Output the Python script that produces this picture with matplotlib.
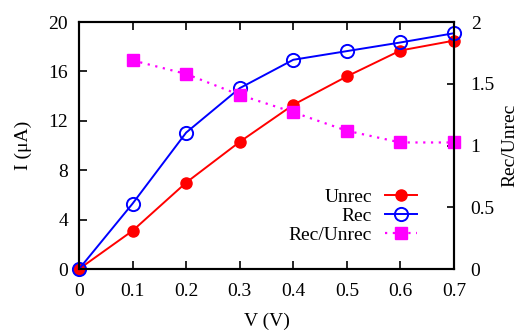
import matplotlib
matplotlib.use("Agg")
import matplotlib.pyplot as plt

plt.rcParams['font.family'] = ['Liberation Serif', 'DejaVu Serif']
plt.rcParams['mathtext.fontset'] = 'stix'

voltage = [0, 0.1, 0.2, 0.3, 0.4, 0.5, 0.6, 0.7]
unrec = [0, 3.1, 7.0, 10.3, 13.3, 15.6, 17.7, 18.5]
rec = [0, 5.3, 11.05, 14.65, 16.95, 17.65, 18.35, 19.1]
ratio_v = [0.1, 0.2, 0.3, 0.4, 0.5, 0.6, 0.7]
ratio = [1.69, 1.58, 1.41, 1.27, 1.12, 1.025, 1.025]

x_ticks = [0, 0.1, 0.2, 0.3, 0.4, 0.5, 0.6, 0.7]
y_ticks = [0, 4, 8, 12, 16, 20]
y2_ticks = [0, 0.5, 1, 1.5, 2]

fig = plt.figure(figsize=(5.2, 3.35), dpi=100)
ax = fig.add_axes([0.152, 0.197, 0.721, 0.737])
ax2 = ax.twinx()

l1, = ax.plot(voltage, unrec, color='#ff0000', lw=1.4, marker='o', ms=8,
              markerfacecolor='#ff0000', markeredgecolor='#ff0000', label='Unrec', clip_on=False, zorder=3)
l2, = ax.plot(voltage, rec, color='#0000ff', lw=1.4, marker='o', ms=9.5,
              markerfacecolor='none', markeredgecolor='#0000ff', markeredgewidth=1.4, label='Rec', clip_on=False, zorder=4)
l3, = ax2.plot(ratio_v, ratio, color='#ff00ff', lw=1.6, ls=(0, (1, 2.5)), marker='s', ms=8.5,
               markerfacecolor='#ff00ff', markeredgecolor='#ff00ff', label='Rec/Unrec', clip_on=False)

ax.set_xlim(0, 0.7)
ax.set_ylim(0, 20)
ax2.set_ylim(0, 2)
ax.set_xticks(x_ticks)
ax.set_xticklabels(['0', '0.1', '0.2', '0.3', '0.4', '0.5', '0.6', '0.7'])
ax.set_yticks(y_ticks)
ax2.set_yticks(y2_ticks)
ax2.set_yticklabels(['0', '0.5', '1', '1.5', '2'])

fs = 14
ax.tick_params(axis='x', direction='in', top=True, length=6, width=1.2, labelsize=fs, pad=10)
ax.tick_params(axis='y', direction='in', right=False, length=6, width=1.2, labelsize=fs, pad=8)
ax2.tick_params(axis='y', direction='in', length=5, width=1.2, labelsize=fs, pad=12)
for a in (ax, ax2):
    for s in a.spines.values():
        s.set_linewidth(1.5)

ax.set_xlabel('V (V)', fontsize=fs, labelpad=9)
ax.set_ylabel('I (μA)', fontsize=fs, labelpad=12)
ax2.set_ylabel('Rec/Unrec', fontsize=fs, labelpad=5)

leg = ax.legend([l1, l2, l3], ['Unrec', 'Rec', 'Rec/Unrec'], loc='lower right',
                bbox_to_anchor=(0.901, 0.101), frameon=False, markerfirst=False,
                fontsize=fs, handlelength=1.65, labelspacing=0.08, handletextpad=0.65,
                borderaxespad=0, borderpad=0)

fig.savefig('out.png', dpi=100)
